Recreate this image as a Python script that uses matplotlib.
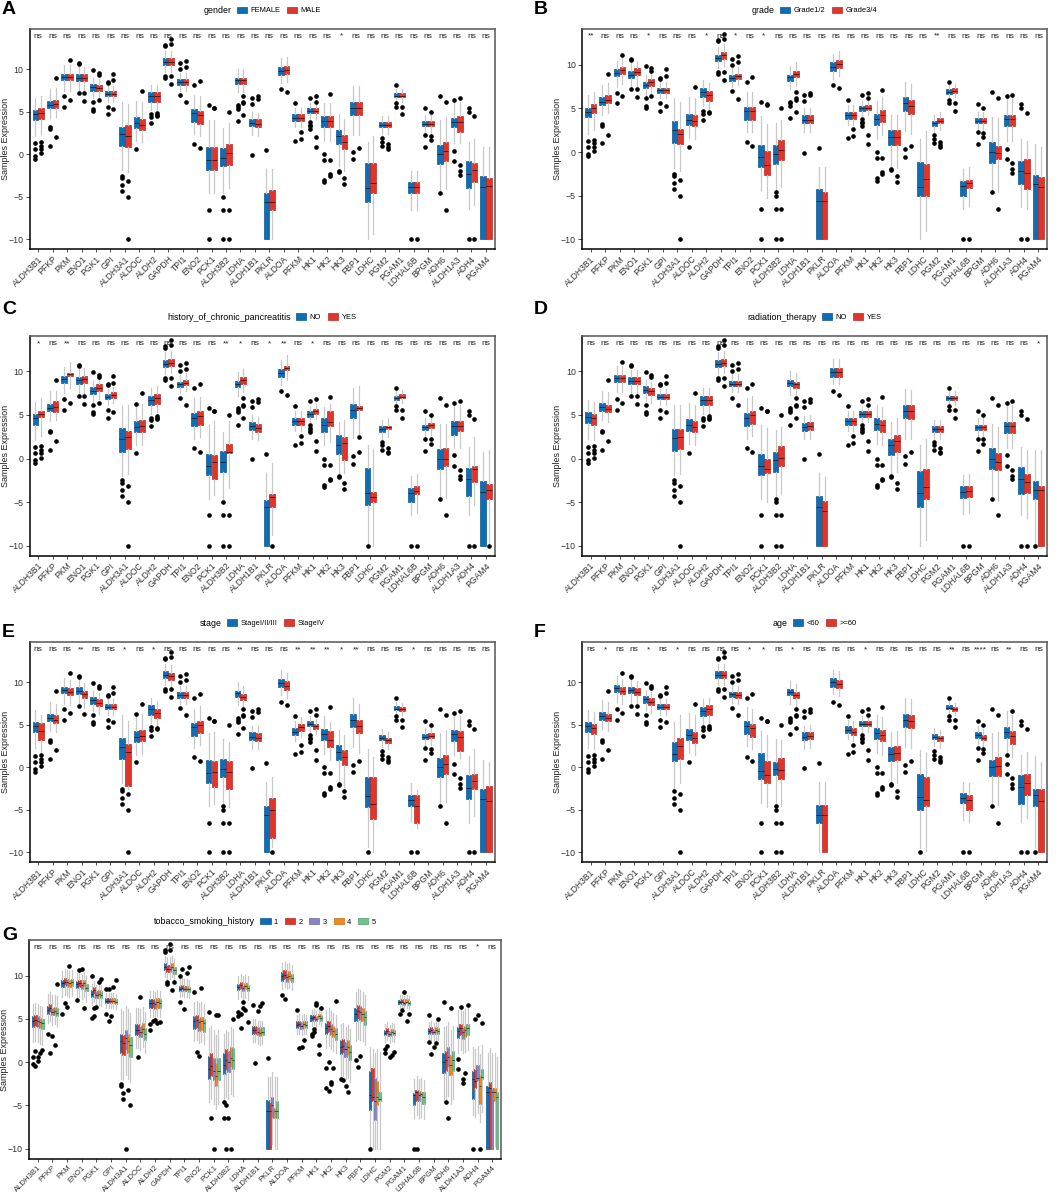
import matplotlib
matplotlib.use('Agg')
import matplotlib.pyplot as plt
import matplotlib.colors as mcolors
from matplotlib.patches import Patch
import numpy as np

plt.rcParams['font.family'] = ['Liberation Sans', 'DejaVu Sans']

# ---------------------------------------------------------------- data
genes = ['ALDH3B1', 'PFKP', 'PKM', 'ENO1', 'PGK1', 'GPI', 'ALDH3A1', 'ALDOC',
         'ALDH2', 'GAPDH', 'TPI1', 'ENO2', 'PCK1', 'ALDH3B2', 'LDHA', 'ALDH1B1',
         'PKLR', 'ALDOA', 'PFKM', 'HK1', 'HK2', 'HK3', 'FBP1', 'LDHC', 'PGM2',
         'PGAM1', 'LDHAL6B', 'BPGM', 'ADH6', 'ALDH1A3', 'ADH4', 'PGAM4']

# typical box spread of each gene
base_q1 = [4.0, 5.4, 8.7, 8.6, 7.5, 6.8, 0.9, 3.0, 6.2, 10.5, 8.2, 3.8, -1.8, -1.4, 8.3, 3.3,
           -10, 9.3, 3.9, 4.8, 3.2, 1.0, 4.6, -5.6, 3.2, 6.7, -4.6, 3.3, -1.2, 3.0, -4.0, -10]
base_med = [4.7, 5.8, 9.1, 9.0, 7.9, 7.1, 2.3, 3.6, 6.8, 10.9, 8.5, 4.8, -0.7, -0.3, 8.7, 3.7,
            -5.6, 9.8, 4.3, 5.1, 3.9, 1.9, 5.5, -4.0, 3.5, 6.9, -3.9, 3.6, 0.0, 3.8, -2.4, -3.8]
base_q3 = [5.2, 6.3, 9.5, 9.4, 8.3, 7.4, 3.2, 4.3, 7.3, 11.3, 8.8, 5.3, 0.8, 1.0, 9.0, 4.2,
           -4.6, 10.3, 4.7, 5.4, 4.5, 2.7, 6.2, -1.0, 3.8, 7.2, -3.3, 3.9, 1.1, 4.3, -0.7, -2.6]
base_wlo = [2.2, 4.3, 7.5, 7.4, 6.6, 6.2, -2.0, 1.5, 5.2, 9.7, 7.5, 2.4, -4.5, -4.5, 7.3, 2.3,
            -10, 8.4, 3.2, 4.2, 1.6, -1.6, 2.3, -10, 2.4, 6.2, -6.5, 2.5, -4.5, 1.3, -6.5, -10]
base_whi = [6.6, 7.7, 10.5, 10.3, 9.0, 8.0, 6.0, 6.2, 8.2, 12.2, 9.6, 7.0, 4.0, 3.2, 10.0, 5.0,
            -1.7, 11.3, 5.5, 6.0, 6.0, 4.5, 8.0, 1.5, 4.5, 7.7, -2.0, 4.6, 4.0, 6.2, 1.3, 0.8]
outliers = [
    [-0.2, 0.6, 1.3, -0.5, 0.1, 0.6, 1.0, 1.4],
    [3.2, 1.0, 3.0, 2.0, 9.0],
    [5.6, 6.8, 6.4, 11.1],
    [7.2, 10.6, 10.7, 6.3, 7.2],
    [9.9, 5.1, 5.3, 6.2, 6.4, 9.3, 9.6],
    [5.6, 8.4, 8.5, 4.7, 5.3, 8.7, 9.5],
    [-2.5, -2.8, -3.6, -4.3, -10, -3.2, -5.0],
    [6.3, 0.6, 7.5],
    [3.7, 4.4, 4.7, 4.9, 4.5, 4.6],
    [12.7, 12.9, 9.0, 9.2, 13.0, 13.6, 8.3, 9.2],
    [7.0, 10.0, 10.7, 6.1, 10.3, 11.0],
    [8.1, 1.2, 0.7, 8.6],
    [5.8, -6.5, -10, 5.4, 5.5],
    [-4.6, -6.5, -10, -5.0, -6.5, -10, 5.0],
    [5.3, 5.8, 5.6, 3.9, 6.2, 6.9, 6.0, 4.6],
    [6.6, -0.1, 5.9, 6.5, 6.8],
    [0.5, -10],
    [7.7, 7.3],
    [6.0, 1.6, 1.8, 2.6],
    [3.0, 3.3, 3.5, 3.8, 6.6, 6.8, 0.9, 2.0, 6.2],
    [-3.0, -0.7, 0.0, -3.3, -2.5, -2.3, -0.7, 7.1],
    [-2.0, -2.1, -2.8, -3.5],
    [0.3, -0.6, 0.7, 2.5],
    [-10],
    [1.0, 1.5, 1.9, 0.6, 0.8, 1.2],
    [5.6, 6.0, 8.1, 4.7, 5.6],
    [-10, -10],
    [2.3, 5.5, 0.9, 1.7, 2.2, 5.0],
    [6.9, -4.6, -6.5, 6.2],
    [-0.8, 0.4, 1.5, 6.4, -2.4, -2.0, -1.3, 6.6],
    [-10, 5.0, 5.5, -10, 4.5],
    [-10, -10],
]

# panel A: gender
med_A = [
    [4.7, 5.8, 9.1, 9.0, 7.9, 7.1, 2.4, 3.7, 6.8, 10.9, 8.5, 4.8, -0.7, -0.4, 8.7, 3.7,
     -5.6, 9.8, 4.3, 5.1, 3.9, 2.1, 5.5, -4.0, 3.5, 6.9, -3.9, 3.6, 0.0, 3.8, -2.3, -3.8],
    [4.9, 5.9, 9.1, 9.0, 7.8, 7.1, 2.2, 3.5, 6.8, 10.9, 8.5, 4.6, -0.7, 0.2, 8.7, 3.6,
     -5.6, 9.9, 4.3, 5.1, 3.9, 1.5, 5.5, -3.4, 3.5, 6.9, -3.9, 3.6, 0.4, 3.8, -1.9, -3.7]]
fix_A = {'ALDH3A1': [(1.0, 3.2), (0.8, 3.4)], 'ALDH3B2': [(-1.4, 0.7), (-1.3, 1.2)],
         'PKLR': [(-10, -4.6), (-6.5, -4.2)], 'LDHC': [(-5.6, -1.0), (-4.6, -1.0)],
         'ALDH1A3': [(3.2, 4.3), (2.6, 4.5)], 'ADH4': [(-4.0, -0.75), (-3.3, -1.0)],
         'PGAM4': [(-10, -2.5), (-10, -2.8)]}
sig_A = ('ns ns ns ns ns ns ns ns ns ns ns ns ns ns ns ns '
         'ns ns ns ns ns * ns ns ns ns ns ns ns ns ns ns').split()

# panel B: grade
med_B = [
    [4.6, 5.8, 9.1, 8.9, 7.7, 7.1, 2.5, 3.7, 6.9, 10.8, 8.5, 4.7, -0.6, -0.2, 8.6, 3.7,
     -5.6, 9.8, 4.2, 5.0, 3.8, 1.7, 5.6, -4.0, 3.3, 6.9, -3.9, 3.6, 0.0, 3.8, -2.2, -3.7],
    [5.0, 6.0, 9.4, 9.2, 8.0, 7.1, 2.1, 3.6, 6.5, 11.1, 8.7, 4.7, -1.5, 0.2, 9.0, 3.7,
     -5.6, 10.1, 4.2, 5.1, 4.2, 1.7, 5.3, -3.1, 3.6, 7.0, -3.6, 3.6, -0.1, 3.8, -2.4, -4.0]]
fix_B = {'ALDH3B1': [(4.0, 5.1), (4.5, 5.5)], 'ALDH3A1': [(1.0, 3.6), (0.9, 2.6)],
         'PCK1': [(-1.7, 0.8), (-2.6, 0.1)], 'ALDH3B2': [(-1.4, 0.8), (-0.9, 1.4)],
         'PKLR': [(-10, -4.3), (-10, -4.6)], 'LDHC': [(-5.0, -1.2), (-5.0, -1.4)],
         'LDHAL6B': [(-5.0, -3.3), (-4.1, -3.2)], 'ADH6': [(-1.3, 1.1), (-0.8, 0.7)],
         'ADH4': [(-3.7, -1.0), (-4.3, -0.8)], 'PGAM4': [(-10, -2.6), (-10, -2.9)]}
sig_B = ('** ns ns ns * ns ns ns * ns * ns * ns ns ns '
         'ns ns ns ns ns ns ns ns ** ns ns ns ns ns ns ns').split()

# panel C: history_of_chronic_pancreatitis
med_C = [
    [4.6, 5.8, 9.1, 9.0, 7.8, 7.1, 2.3, 3.6, 6.7, 10.9, 8.5, 4.7, -0.8, -0.4, 8.6, 3.7,
     -5.6, 9.8, 4.3, 5.1, 3.8, 1.6, 5.6, -3.9, 3.4, 6.9, -3.9, 3.6, 0.0, 3.7, -2.4, -3.8],
    [5.1, 5.9, 9.7, 9.1, 8.1, 7.3, 2.5, 3.7, 6.9, 11.0, 8.7, 4.9, -0.4, 0.8, 9.0, 3.5,
     -4.4, 10.4, 4.3, 5.4, 4.2, 1.8, 5.8, -4.4, 3.6, 7.1, -3.7, 3.8, 0.0, 3.7, -1.2, -3.6]]
fix_C = {'ALDH3B1': [None, (4.8, 5.4)], 'PFKP': [None, (5.3, 6.6)], 'PKM': [None, (9.5, 9.8)],
         'ALDH3A1': [(0.8, 3.5), (1.1, 3.2)], 'PCK1': [(-1.9, 0.5), (-2.3, 0.4)],
         'ALDH3B2': [(-1.5, 0.9), (0.6, 1.7)], 'PKLR': [(-10, -4.7), (-5.6, -4.1)],
         'ALDOA': [None, (10.2, 10.6)], 'HK2': [(3.1, 4.6), (3.7, 5.4)],
         'HK3': [(0.5, 2.7), (-0.2, 2.5)], 'FBP1': [None, (5.6, 6.0)],
         'LDHC': [(-5.3, -1.1), (-5.0, -3.8)], 'PGM2': [None, (3.4, 3.7)],
         'LDHAL6B': [(-5.0, -3.4), (-4.1, -3.2)], 'ADH6': [None, (-0.8, 1.2)],
         'ALDH1A3': [(2.7, 4.3), (3.2, 4.3)], 'ADH4': [(-4.3, -1.1), (-2.7, -0.9)],
         'PGAM4': [(-10, -2.6), (-4.6, -2.9)]}
sig_C = ('* ns ** ns ns ns ns ns ns ns ns ns ns ** * ns '
         '* ** ns * ns ns ns ns ns ns ns ns ns ns ns ns').split()

# panel D: radiation_therapy
med_D = [
    [4.8, 5.9, 9.2, 8.9, 7.9, 7.1, 2.4, 3.8, 6.7, 10.9, 8.6, 4.7, -0.8, -0.2, 8.7, 3.6,
     -5.6, 9.9, 4.3, 5.1, 4.0, 1.6, 5.5, -4.0, 3.4, 6.9, -3.8, 3.6, 0.0, 3.7, -2.4, -3.6],
    [4.6, 5.7, 9.2, 8.9, 7.7, 7.1, 2.5, 3.6, 6.7, 11.0, 8.6, 5.0, -1.2, 0.1, 8.5, 3.7,
     -6.0, 9.9, 4.3, 5.1, 3.8, 2.0, 5.4, -3.3, 3.4, 6.9, -3.7, 3.6, -0.4, 3.7, -2.7, -3.6]]
fix_D = {'ALDH3A1': [(0.9, 3.4), (1.1, 3.4)], 'PCK1': [(-1.9, 0.5), (-1.7, 0.0)],
         'ALDH3B2': [(-1.5, 0.8), (-0.9, 1.4)], 'PKLR': [(-10, -4.3), (-10, -4.9)],
         'HK3': [(0.4, 2.3), (0.8, 2.7)], 'LDHC': [(-5.6, -1.4), (-4.6, -1.2)],
         'ADH6': [(-1.2, 1.2), (-1.3, 0.6)], 'ADH4': [(-4.1, -1.0), (-3.9, -1.8)],
         'PGAM4': [(-4.6, -2.6), (-10, -3.2)]}
sig_D = ('ns ns ns ns ns ns ns ns ns ns ns ns ns ns ns ns '
         'ns ns ns ns ns ns ns ns ns ns ns ns ns ns ns *').split()

# panel E: stage
med_E = [
    [4.8, 5.8, 9.1, 9.0, 7.9, 7.1, 2.4, 3.6, 6.8, 10.9, 8.5, 4.7, -0.7, -0.2, 8.7, 3.6,
     -5.6, 9.9, 4.2, 5.1, 3.9, 1.8, 5.6, -3.4, 3.5, 6.9, -3.8, 3.6, 0.0, 3.9, -2.4, -3.7],
    [4.3, 5.6, 8.9, 8.6, 7.6, 7.1, 1.8, 3.7, 6.4, 10.7, 8.5, 5.0, -0.5, -0.5, 8.3, 3.5,
     -5.0, 9.6, 4.7, 4.8, 3.2, 1.2, 4.9, -4.3, 3.2, 6.8, -4.6, 3.7, 0.4, 3.6, -1.6, -4.0]]
fix_E = {'ALDH3B1': [None, (3.2, 5.2)], 'ALDH3A1': [(1.0, 3.5), (-2.2, 2.7)],
         'PCK1': [(-1.8, 0.8), (-2.3, 0.7)], 'ALDH3B2': [(-1.1, 1.0), (-2.6, 0.7)],
         'PKLR': [(-10, -4.6), (-8.3, -3.6)], 'HK2': [None, (2.4, 4.3)],
         'LDHC': [(-4.7, -1.1), (-6.1, -1.1)], 'LDHAL6B': [(-4.6, -3.3), (-6.5, -3.3)],
         'ALDH1A3': [None, (1.9, 4.3)], 'ADH4': [(-3.7, -0.9), (-2.6, -0.8)],
         'PGAM4': [(-10, -2.6), (-10, -2.2)]}
sig_E = ('ns ns ns ** ns ns * ns * ns ns ns ns ns ** ns '
         'ns ns ** ** ** * ** ns ns ns * ns ns ns ns ns').split()

# panel F: age
med_F = [
    [4.8, 6.0, 9.3, 9.1, 8.0, 7.1, 1.6, 3.8, 6.6, 10.9, 8.6, 4.9, -0.4, -0.2, 8.9, 3.6,
     -5.6, 10.0, 4.4, 5.1, 4.0, 1.6, 5.6, -3.5, 3.6, 7.0, -3.6, 3.8, 0.0, 4.2, -2.3, -3.3],
    [4.6, 5.8, 9.0, 8.9, 7.7, 7.1, 2.5, 3.5, 6.8, 10.9, 8.5, 4.6, -0.9, -0.3, 8.5, 3.7,
     -5.6, 9.8, 4.2, 5.1, 3.8, 1.7, 5.5, -3.8, 3.4, 6.8, -3.8, 3.5, 0.1, 3.7, -1.9, -4.0]]
fix_F = {'ALDH3A1': [(0.7, 3.0), (1.0, 3.5)], 'PCK1': [(-1.4, 1.7), (-1.9, 0.7)],
         'ALDH3B2': [(-0.9, 0.6), (-1.4, 1.1)], 'PKLR': [(-6.5, -4.4), (-10, -4.4)],
         'LDHC': [(-5.0, -0.8), (-4.6, -1.2)], 'LDHAL6B': [(-4.2, -3.0), (-5.0, -3.3)],
         'ADH6': [(-1.0, 0.9), (-1.0, 1.2)], 'ALDH1A3': [None, (2.7, 4.3)],
         'ADH4': [(-4.3, -0.9), (-3.3, -0.8)], 'PGAM4': [(-4.6, -2.6), (-10, -2.6)]}
sig_F = ('ns * ns ns * ns * ns ns ns ns * * ns * ns '
         'ns ns ns * ns ns ns ns ns ** ns **** ns ** ns ns').split()

# panel G: tobacco_smoking_history
med_G = [
    [4.8, 6.0, 9.1, 9.0, 7.9, 7.1, 2.4, 3.7, 6.8, 11.0, 8.5, 4.8, -0.8, -0.3, 8.7, 3.7,
     -5.6, 9.9, 4.3, 5.1, 3.9, 1.8, 5.6, -3.8, 3.4, 6.9, -3.8, 3.6, 0.0, 3.6, -2.0, -3.5],
    [4.9, 6.2, 9.3, 9.1, 8.3, 7.1, 2.2, 3.7, 6.8, 10.8, 8.6, 4.9, -0.5, 0.2, 8.9, 3.7,
     -5.6, 10.1, 4.4, 5.2, 4.2, 1.9, 5.9, -4.0, 3.6, 7.0, -3.5, 3.7, 0.2, 3.9, -2.2, -3.0],
    [4.8, 5.8, 9.2, 8.9, 7.8, 7.1, 2.8, 3.5, 6.7, 10.8, 8.5, 4.6, -1.0, 0.0, 8.6, 3.5,
     -5.0, 9.8, 4.2, 5.0, 3.8, 1.5, 5.8, -4.5, 3.3, 6.8, -3.8, 3.5, 0.6, 3.5, -1.8, -3.5],
    [4.6, 5.9, 9.1, 9.1, 7.9, 7.1, 2.4, 3.8, 6.9, 11.0, 8.5, 4.7, -1.6, 0.5, 8.8, 3.4,
     -5.6, 10.0, 4.4, 5.3, 3.6, 1.7, 5.6, -4.0, 3.5, 7.0, -3.7, 3.7, -0.3, 3.7, -2.8, -3.5],
    [4.5, 5.7, 9.2, 8.6, 7.8, 7.0, 2.0, 3.2, 6.8, 10.6, 8.4, 4.5, -1.0, 0.3, 8.6, 3.5,
     -5.6, 9.7, 4.3, 5.1, 3.3, 1.2, 5.2, -4.3, 3.4, 6.8, -4.0, 3.6, 0.2, 3.9, -1.7, -4.0]]
fix_G = {'PKLR': [(-10, -4.4), (-10, -4.6), (-6.5, -4.0), (-6.5, -5.3), (-6.5, -4.5)],
         'LDHC': [(-5.5, -1.0), (-4.5, -0.7), (-6.7, -1.8), (-5.0, -2.2), (-4.5, -3.5)],
         'LDHAL6B': [(-5.0, -3.6), (-4.5, -3.2), (-4.5, -3.3), (-4.0, -3.4), (-4.8, -3.5)],
         'ADH4': [(-4.3, -1.0), (-3.0, -0.8), (-2.2, -0.3), (-4.8, -1.5), (-2.0, -0.8)],
         'PGAM4': [(-10, -2.8), (-10, -2.3), (-10, -3.0), (-4.5, -3.0), (-10, -3.5)]}
sig_G = ('ns ns ns ns ns ns ns ns ns ns ns ns ns ns ns ns '
         'ns ns ns ns ns ns ns ns ns ns ns ns ns ns * ns').split()

BLUE, RED = '#0F6DB4', '#E0352B'
G_COLORS = ['#0F6DB4', '#E0352B', '#8883C3', '#F18A1E', '#6DC38C']

panels = [
    dict(letter='A', rect=(29.6, 29.3, 494.6, 249.3), title='gender', groups=['FEMALE', 'MALE'],
         colors=[BLUE, RED], med=med_A, fix=fix_A, sig=sig_A, top=14.7, lab_y=13.9,
         leg_y=10.5, let_xy=(2, 10), xfs=6.2),
    dict(letter='B', rect=(582, 29.3, 1047, 249.3), title='grade', groups=['Grade1/2', 'Grade3/4'],
         colors=[BLUE, RED], med=med_B, fix=fix_B, sig=sig_B, top=14.1, lab_y=13.3,
         leg_y=10.5, let_xy=(534, 10), xfs=6.2),
    dict(letter='C', rect=(29.6, 336, 494.6, 556), title='history_of_chronic_pancreatitis',
         groups=['NO', 'YES'], colors=[BLUE, RED], med=med_C, fix=fix_C, sig=sig_C,
         top=14.06, lab_y=13.2, leg_y=317.3, let_xy=(2, 309.5), xfs=6.2),
    dict(letter='D', rect=(582, 336, 1047, 556), title='radiation_therapy',
         groups=['NO', 'YES'], colors=[BLUE, RED], med=med_D, fix=fix_D, sig=sig_D,
         top=14.06, lab_y=13.2, leg_y=317.3, let_xy=(534, 309.5), xfs=6.2),
    dict(letter='E', rect=(29.6, 642.3, 494.6, 862.3), title='stage', groups=['StageI/II/III', 'StageIV'],
         colors=[BLUE, RED], med=med_E, fix=fix_E, sig=sig_E, top=14.7, lab_y=13.8,
         leg_y=623.3, let_xy=(2, 632.5), xfs=6.2),
    dict(letter='F', rect=(582, 642.3, 1047, 862.3), title='age', groups=['<60', '>=60'],
         colors=[BLUE, RED], med=med_F, fix=fix_F, sig=sig_F, top=14.7, lab_y=13.8,
         leg_y=623.3, let_xy=(534, 632.5), xfs=6.2),
    dict(letter='G', rect=(29, 940, 501, 1159), title='tobacco_smoking_history',
         groups=['1', '2', '3', '4', '5'], colors=G_COLORS, med=med_G, fix=fix_G, sig=sig_G,
         top=14.1, lab_y=13.26, leg_y=921.7, let_xy=(2, 935), xfs=5.6),
]

# ---------------------------------------------------------------- figure
W, H = 1059, 1195
fig = plt.figure(figsize=(W / 100, H / 100), dpi=100)


def dark(c, f):
    r, g, b = mcolors.to_rgb(c)
    return (r * f, g * f, b * f)


def draw_panel(p):
    l, t, r, b = p['rect']
    ax = fig.add_axes([l / W, 1 - b / H, (r - l) / W, (b - t) / H])
    n = len(p['groups'])
    w = 0.8 / n
    x = np.arange(1, len(genes) + 1)
    for gi in range(n):
        med = p['med'][gi]
        stats = []
        for i, gene in enumerate(genes):
            m = med[i]
            q1 = max(-10, m + base_q1[i] - base_med[i])
            q3 = m + base_q3[i] - base_med[i]
            fx = p['fix'].get(gene)
            if fx is not None and fx[gi] is not None:
                q1, q3 = fx[gi]
            lo = max(-10, min(q1, m + base_wlo[i] - base_med[i]))
            hi = max(q3, m + base_whi[i] - base_med[i])
            pts = np.array_split(np.array(outliers[i]), n)[gi]
            pts = pts[(pts < lo) | (pts > hi)]
            stats.append(dict(med=m, q1=q1, q3=q3, whislo=lo, whishi=hi, fliers=pts))
        c = p['colors'][gi]
        ax.bxp(stats, positions=x + (gi - (n - 1) / 2) * w, widths=w * 0.98,
               patch_artist=True, showcaps=False, manage_ticks=False,
               boxprops=dict(facecolor=c, edgecolor=dark(c, 0.8), linewidth=0.5),
               medianprops=dict(color=dark(c, 0.4), linewidth=0.7),
               whiskerprops=dict(color='#c8c8c8', linewidth=0.9),
               flierprops=dict(marker='o', markersize=2.3, markerfacecolor='black',
                               markeredgecolor='black', linestyle='none'))
    for i, s in enumerate(p['sig']):
        ax.text(x[i], p['lab_y'], s, ha='center', va='center', fontsize=6, color='#222222')
    ax.set_xlim(0.4, len(genes) + 0.6)
    ax.set_ylim(-11.18, p['top'])
    ax.set_yticks([-10, -5, 0, 5, 10])
    ax.set_xticks(x)
    ax.set_xticklabels(genes, rotation=45, ha='right', rotation_mode='anchor', fontsize=p['xfs'])
    ax.tick_params(axis='y', labelsize=6.3, length=3, width=0.6, colors='#333333', pad=1.5)
    ax.tick_params(axis='x', length=2.5, width=0.6, colors='#333333', pad=1.2)
    ax.set_ylabel('Samples Expression', fontsize=6.5, color='#222222')
    ax.yaxis.set_label_coords(-20 / (r - l), 0.5)
    for side in ['left', 'bottom']:
        ax.spines[side].set_color('black')
        ax.spines[side].set_linewidth(1.1)
    for side in ['top', 'right']:
        ax.spines[side].set_color('#555555')
        ax.spines[side].set_linewidth(1.1)
    lx, ly = p['let_xy']
    fig.text(lx / W, 1 - ly / H, p['letter'], fontsize=14, fontweight='bold', ha='left', va='center')
    return ax


for p in panels:
    draw_panel(p)

# legends: title on the left, keys after it, block centered above each axes
renderer = fig.canvas.get_renderer()
for p in panels:
    l, t, r, b = p['rect']
    cx = (l + r) / 2
    y = 1 - p['leg_y'] / H
    handles = [Patch(facecolor=c, edgecolor=dark(c, 0.8), linewidth=0.5) for c in p['colors']]
    title = fig.text(0, y, p['title'], ha='left', va='center', fontsize=6.4)
    leg = fig.legend(handles, p['groups'], loc='center left', bbox_to_anchor=(0, y),
                     ncol=len(handles), frameon=False, fontsize=5.4, handlelength=1.35,
                     handleheight=0.95, handletextpad=0.45, columnspacing=0.9,
                     borderpad=0, borderaxespad=0)
    tw = title.get_window_extent(renderer).width
    lw = leg.get_window_extent(renderer).width
    gap = 5
    x0 = cx - (tw + gap + lw) / 2
    title.set_x(x0 / W)
    leg.set_bbox_to_anchor(((x0 + tw + gap) / W, y), transform=fig.transFigure)

fig.savefig('out.png', dpi=100)
